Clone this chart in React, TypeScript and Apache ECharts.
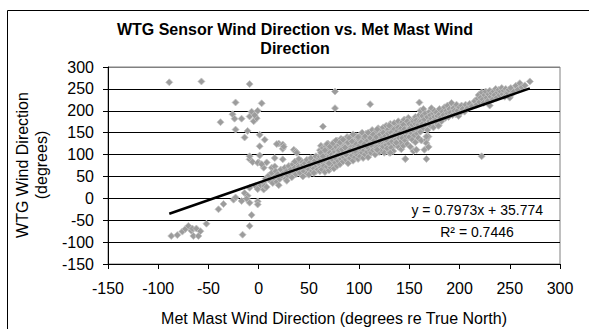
import { useEffect, useRef } from "react";
import * as echarts from "echarts";

// Axis ticks (degrees)
const xTicks = { min: -150, max: 300, step: 50 };
const yTicks = { min: -150, max: 300, step: 50 };

// Linear fit reported on the chart
const fitSlope = 0.7973;
const fitIntercept = 35.774;
const fitR2 = 0.7446;

// [met mast direction, WTG sensor direction]
const lowCluster: number[][] = [
  [-87, -86], [-81, -84], [-76, -76], [-73, -70], [-70, -63], [-67, -74], [-66, -69], [-65, -86],
  [-62, -69], [-60, -86], [-58, -75], [-52, -58], [-40, -25], [-35, -13], [-25, -3], [-23, 2],
  [-17, -6], [-14, 12], [-11, 6], [-12, -1], [-9, -10], [-7, -38], [-9, -63], [-16, -83],
  [-1, -7], [-1, -14], [-3, 28], [-1, 21], [-9, 24], [5, 20],
];

const upperLeft: number[][] = [
  [-89, 265], [-57, 267], [-9, 261], [-23, 219], [3, 217], [-38, 174], [-26, 192], [-24, 182],
  [-17, 182], [-23, 157], [-14, 139], [-11, 154], [-9, 187], [-7, 198], [-5, 176], [-2, 183],
  [-1, 200], [-4, 190], [1, 145], [6, 134], [1, 119], [1, 98], [-9, 89], [-6, 83], [0, 82],
  [8, 82], [5, 70], [13, 70], [16, 92], [20, 125], [24, 123], [24, 113], [24, 89], [35, 111],
  [37, 107], [38, 104], [-9, 96], [-1, 81], [3, 78], [16, 73], [18, 124], [25, 118],
];

const band0to60: number[][] = [
  [2, 30], [5, 35], [6, 28], [7, 45], [8, 26], [10, 43], [10, 52], [12, 40], [13, 58], [14, 35],
  [15, 47], [17, 51], [17, 62], [18, 38], [19, 55], [21, 44], [22, 66], [23, 52], [25, 58],
  [26, 70], [27, 45], [28, 62], [29, 52], [30, 74], [31, 58], [32, 66], [33, 48], [34, 78],
  [35, 60], [36, 70], [37, 55], [38, 82], [39, 64], [40, 72], [41, 58], [42, 86], [43, 68],
  [44, 76], [45, 62], [46, 80], [47, 70], [48, 88], [48, 56], [49, 74], [50, 66], [51, 82],
  [52, 60], [52, 92], [53, 72], [54, 78], [55, 68], [56, 86], [57, 62], [57, 96], [58, 74],
  [59, 80], [59, 66], [60, 90], [44, 50], [50, 54], [55, 58], [36, 84], [40, 90], [28, 40], [20, 30],
];

const band60to110: number[][] = [
  [61, 62], [61, 78], [61, 95], [61, 110], [62, 70], [62, 88], [62, 120], [63, 66], [63, 100],
  [64, 82], [64, 115], [65, 74], [65, 92], [65, 105], [66, 60], [66, 86], [67, 98], [67, 118],
  [68, 72], [68, 90], [68, 108], [69, 80], [69, 125], [70, 64], [70, 96], [70, 112],
  [71, 84], [71, 104], [72, 70], [72, 92], [72, 120], [73, 78], [73, 100], [74, 88], [74, 114],
  [75, 68], [75, 96], [75, 128], [76, 82], [76, 106], [77, 92], [77, 118], [78, 74], [78, 100],
  [78, 132], [79, 86], [79, 110], [80, 96], [80, 122],
  [81, 78], [81, 104], [82, 90], [82, 116], [82, 136], [83, 98], [83, 124], [84, 84], [84, 108],
  [85, 94], [85, 118], [86, 102], [86, 130], [87, 88], [87, 112], [88, 96], [88, 122], [88, 140],
  [89, 106], [89, 80], [90, 114], [90, 100],
  [91, 126], [91, 92], [92, 108], [92, 136], [93, 98], [93, 118], [94, 112], [94, 86], [95, 130],
  [95, 104], [96, 120], [96, 94], [97, 142], [97, 110], [98, 100], [98, 126], [99, 116], [99, 90],
  [100, 134], [100, 106],
  [101, 122], [101, 96], [102, 112], [102, 144], [103, 104], [103, 128], [104, 118], [104, 92],
  [105, 138], [105, 110], [106, 124], [106, 100], [107, 148], [107, 116], [108, 106], [108, 132],
  [109, 120], [109, 94], [110, 140], [110, 112],
];

const band110to160: number[][] = [
  [111, 126], [111, 150], [112, 104], [112, 136], [113, 118], [113, 156], [114, 130], [114, 110],
  [115, 144], [115, 122], [116, 100], [116, 138], [117, 152], [117, 111], [118, 128], [118, 116],
  [119, 160], [119, 134], [120, 106], [120, 142],
  [121, 124], [121, 156], [122, 136], [122, 112], [123, 148], [123, 128], [124, 162], [124, 118],
  [125, 140], [125, 104], [126, 152], [126, 132], [127, 122], [127, 166], [128, 144], [128, 114],
  [129, 136], [129, 158], [130, 126], [130, 104],
  [131, 148], [131, 170], [132, 138], [132, 116], [133, 160], [133, 130], [134, 150], [134, 108],
  [135, 142], [135, 172], [136, 122], [136, 156], [137, 134], [137, 127], [138, 164], [138, 146],
  [139, 118], [139, 176], [140, 138], [140, 154],
  [141, 166], [141, 128], [142, 146], [142, 112], [143, 174], [143, 138], [144, 158], [144, 120],
  [145, 150], [145, 180], [146, 132], [146, 90], [147, 162], [147, 142], [148, 170], [148, 124],
  [149, 152], [149, 184], [150, 140], [150, 160],
  [151, 172], [151, 118], [152, 150], [152, 164], [153, 178], [153, 134], [154, 156], [154, 108],
  [155, 166], [155, 144], [156, 186], [156, 128], [157, 160], [157, 111], [158, 172], [158, 148],
  [159, 180], [159, 138], [160, 164], [160, 190],
];

const bandFill: number[][] = [
  [62, 104], [64, 96], [66, 110], [68, 124], [70, 80], [71, 118], [73, 90], [74, 126], [76, 94],
  [77, 132], [79, 100], [80, 110], [81, 128], [83, 112], [84, 134], [86, 116], [87, 100], [89, 128],
  [90, 138], [91, 110], [93, 130], [94, 146], [96, 108], [97, 124], [99, 140], [100, 120],
  [102, 128], [103, 150], [105, 124], [106, 142], [108, 118], [109, 150], [111, 138], [112, 122],
  [114, 146], [115, 132], [117, 140], [118, 158], [120, 130], [121, 146], [123, 138], [124, 150],
  [126, 142], [127, 134], [129, 148], [130, 166], [132, 150], [133, 142], [135, 158], [136, 146],
  [138, 154], [139, 162], [141, 150], [142, 160], [144, 168], [145, 158], [147, 152], [148, 176],
  [150, 170], [151, 160], [153, 168], [154, 176], [156, 170], [157, 178], [159, 168], [160, 176],
];

const band160to215: number[][] = [
  [161, 152], [161, 200], [162, 176], [162, 132], [163, 188], [163, 170], [164, 160], [164, 204],
  [165, 180], [165, 111], [166, 168], [166, 194], [167, 134], [167, 90], [167, 126], [168, 186],
  [168, 156], [169, 118], [169, 141], [170, 176], [170, 198], [171, 166], [171, 190], [172, 182],
  [172, 206], [173, 174], [174, 194], [174, 162], [175, 186], [175, 200], [176, 178], [177, 196],
  [178, 170], [178, 188], [179, 166], [180, 192], [180, 204], [181, 184], [182, 176], [183, 198],
  [184, 190], [185, 208], [186, 184], [187, 200], [188, 194], [188, 212], [189, 186], [190, 204],
  [191, 196], [192, 218], [193, 190], [194, 206], [195, 200], [196, 192], [197, 214], [198, 200],
  [199, 188], [200, 208], [201, 196], [202, 212], [203, 204], [205, 198], [206, 214], [208, 206],
  [210, 216], [212, 210],
];

const band215to270: number[][] = [
  [215, 222], [217, 214], [218, 228], [219, 236], [220, 220], [221, 230], [222, 242], [223, 226],
  [224, 218], [225, 236], [226, 244], [227, 230], [228, 222], [229, 238], [230, 212], [230, 246],
  [231, 232], [232, 240], [233, 226], [234, 244], [235, 236], [236, 250], [237, 230], [238, 242],
  [239, 248], [240, 236], [241, 244], [242, 252], [243, 238], [244, 246], [245, 232], [246, 250],
  [247, 242], [248, 240], [249, 248], [250, 230], [251, 252], [252, 238], [254, 244], [256, 257],
  [258, 248], [260, 263], [262, 254], [265, 258], [270, 267],
];

const outliers: number[][] = [
  [160, 219], [76, 244], [76, 206], [111, 215], [64, 164], [222, 96], [179, 166], [146, 90],
  [167, 141], [169, 117], [157, 111], [131, 104], [118, 111], [137, 127],
];

const FONT = '"Liberation Sans", Arial, Helvetica, sans-serif';

export default function App() {
  const ref = useRef<HTMLDivElement>(null);

  useEffect(() => {
    document.body.style.margin = "0";
    if (!ref.current) return;
    const chart = echarts.init(ref.current, undefined, { renderer: "svg" });

    const points = [
      ...lowCluster, ...upperLeft, ...band0to60, ...band60to110, ...band110to160,
      ...bandFill, ...band160to215, ...band215to270, ...outliers,
    ];
    const xs = points.map((p) => p[0]);
    const xLo = Math.min(...xs);
    const xHi = Math.max(...xs);
    const fitLine = [
      [xLo, fitSlope * xLo + fitIntercept],
      [xHi, fitSlope * xHi + fitIntercept],
    ];

    const splitCount = (yTicks.max - yTicks.min) / yTicks.step + 1;
    const splitColors = Array.from({ length: splitCount }, (_, i) =>
      i === splitCount - 1 ? "#808080" : "#000000"
    );

    const axisLabel = { color: "#000", fontSize: 16, fontFamily: FONT };

    chart.setOption({
      animation: false,
      grid: {
        left: 108, top: 67, width: 452, height: 197,
        show: true, borderColor: "#808080", borderWidth: 1, backgroundColor: "transparent",
      },
      xAxis: {
        type: "value",
        min: xTicks.min, max: xTicks.max, interval: xTicks.step,
        axisLine: { show: true, onZero: false, lineStyle: { color: "#000", width: 1 } },
        axisTick: { show: true, inside: false, length: 5, lineStyle: { color: "#000" } },
        axisLabel: { ...axisLabel, margin: 16 },
        splitLine: { show: false },
      },
      yAxis: {
        type: "value",
        min: yTicks.min, max: yTicks.max, interval: yTicks.step,
        axisLine: { show: true, onZero: false, lineStyle: { color: "#000", width: 1 } },
        axisTick: { show: true, inside: false, length: 5, lineStyle: { color: "#000" } },
        axisLabel: { ...axisLabel, margin: 14 },
        splitLine: { show: true, lineStyle: { color: splitColors, width: 1 } },
      },
      series: [
        {
          type: "scatter",
          data: points,
          symbol: "diamond",
          symbolSize: 7,
          itemStyle: { color: "#9c9c9c", borderColor: "#c4c4c4", borderWidth: 0.8, opacity: 1 },
          z: 2,
        },
        {
          type: "line",
          data: fitLine,
          showSymbol: false,
          symbol: "none",
          lineStyle: { color: "#000", width: 2.5 },
          z: 5,
        },
      ],
      graphic: [
        {
          type: "rect",
          shape: { x: 7.5, y: 10.5, width: 640, height: 400 },
          style: { fill: "none", stroke: "#000", lineWidth: 1 },
          silent: true,
        },
        {
          type: "text", x: 295, y: 29,
          style: {
            text: "WTG Sensor Wind Direction vs. Met Mast Wind",
            font: `bold 16px ${FONT}`, fill: "#000", align: "center", verticalAlign: "middle",
          },
        },
        {
          type: "text", x: 295, y: 48,
          style: {
            text: "Direction",
            font: `bold 16px ${FONT}`, fill: "#000", align: "center", verticalAlign: "middle",
          },
        },
        {
          type: "text", x: 22, y: 165, rotation: Math.PI / 2,
          style: {
            text: "WTG Wind Direction",
            font: `16px ${FONT}`, fill: "#000", align: "center", verticalAlign: "middle",
          },
        },
        {
          type: "text", x: 41, y: 165, rotation: Math.PI / 2,
          style: {
            text: "(degrees)",
            font: `16px ${FONT}`, fill: "#000", align: "center", verticalAlign: "middle",
          },
        },
        {
          type: "text", x: 334, y: 318,
          style: {
            text: "Met Mast Wind Direction (degrees re True North)",
            font: `16px ${FONT}`, fill: "#000", align: "center", verticalAlign: "middle",
          },
        },
        {
          type: "text", x: 543, y: 210,
          style: {
            text: `y = ${fitSlope}x + ${fitIntercept}`,
            font: `14px ${FONT}`, fill: "#000", align: "right", verticalAlign: "middle",
          },
        },
        {
          type: "text", x: 477, y: 232,
          style: {
            text: `R\u00b2 = ${fitR2}`,
            font: `14px ${FONT}`, fill: "#000", align: "center", verticalAlign: "middle",
          },
        },
      ],
    });

    return () => chart.dispose();
  }, []);

  return <div ref={ref} style={{ width: 589, height: 329 }} />;
}
